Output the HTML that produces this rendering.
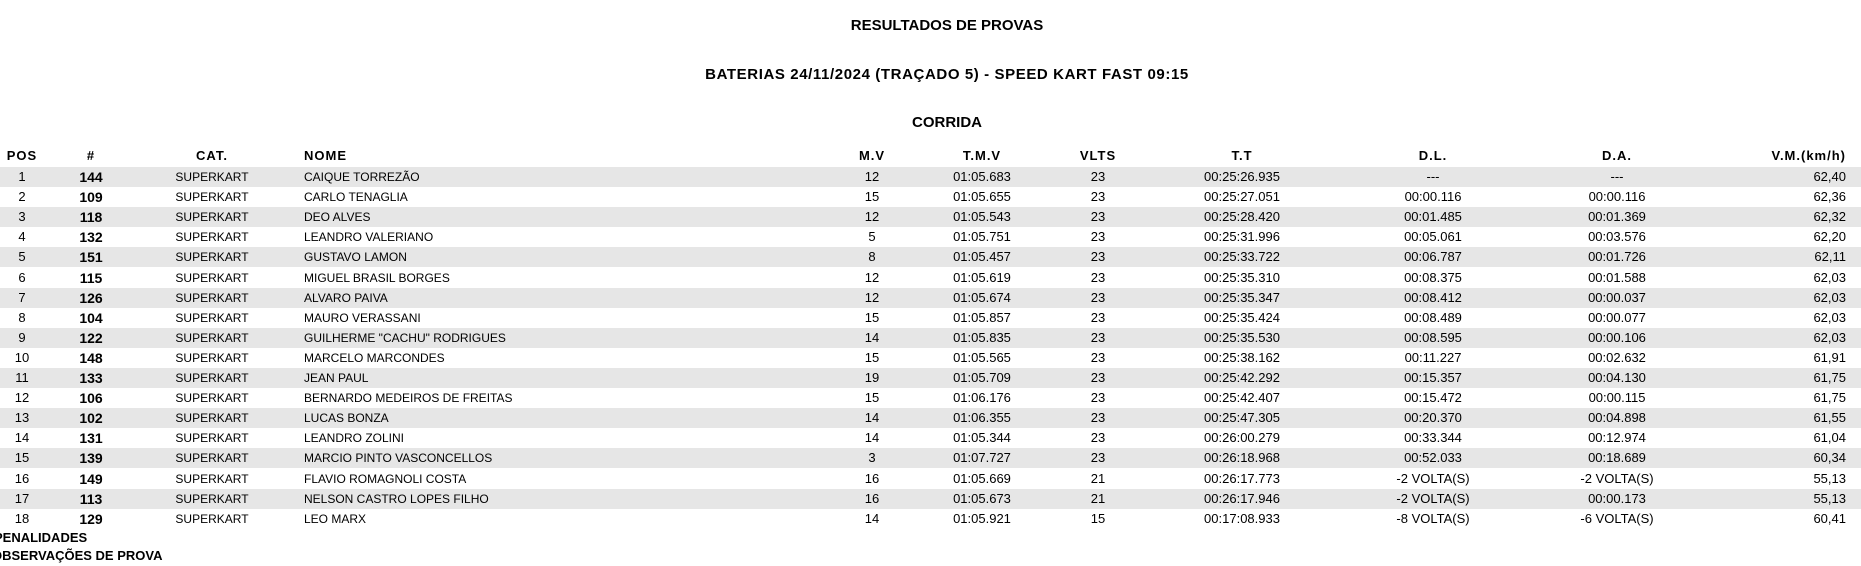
<!DOCTYPE html>
<html><head><meta charset="utf-8">
<style>
body{margin:0;width:1861px;height:561px;background:#fff;font-family:"Liberation Sans",sans-serif;color:#000;position:relative;overflow:hidden}
.t{position:absolute;white-space:nowrap;font-size:13px;line-height:20px}
.b{font-weight:bold;font-size:14px}
.h{font-weight:bold;font-size:13px;letter-spacing:1px}
.n{font-size:12px}
.c{transform:translateX(-50%)}
.r{transform:translateX(-100%)}
.title{position:absolute;left:947px;transform:translateX(-50%);font-weight:bold;font-size:15px;white-space:nowrap}
.row{position:absolute;left:0;width:1861px;height:20px}
</style></head><body>
<div class="title" style="top:17px">RESULTADOS DE PROVAS</div>
<div class="title" style="top:66px;letter-spacing:0.6px">BATERIAS 24/11/2024 (TRAÇADO 5) - SPEED KART FAST 09:15</div>
<div class="title" style="top:114px">CORRIDA</div>
<div id="tbl"></div>
<div class="t b" style="left:-6px;top:528px;font-size:13px">PENALIDADES</div>
<div class="t b" style="left:-8px;top:546px;font-size:13px">OBSERVAÇÕES DE PROVA</div>
<script>
const headers=["POS","#","CAT.","NOME","M.V","T.M.V","VLTS","T.T","D.L.","D.A.","V.M.(km/h)"];
const colX=[22,91,212,304,872,982,1098,1242,1433,1617,1846];
const colAlign=["c","c","c","l","c","c","c","c","c","c","r"];
const nums=["144","109","118","132","151","115","126","104","122","148","133","106","102","131","139","149","113","129"];
const names=["CAIQUE TORREZÃO","CARLO TENAGLIA","DEO ALVES","LEANDRO VALERIANO","GUSTAVO LAMON","MIGUEL BRASIL BORGES","ALVARO PAIVA","MAURO VERASSANI","GUILHERME \"CACHU\" RODRIGUES","MARCELO MARCONDES","JEAN PAUL","BERNARDO MEDEIROS DE FREITAS","LUCAS BONZA","LEANDRO ZOLINI","MARCIO PINTO VASCONCELLOS","FLAVIO ROMAGNOLI COSTA","NELSON CASTRO LOPES FILHO","LEO MARX"];
const mv=["12","15","12","5","8","12","12","15","14","15","19","15","14","14","3","16","16","14"];
const tmv=["01:05.683","01:05.655","01:05.543","01:05.751","01:05.457","01:05.619","01:05.674","01:05.857","01:05.835","01:05.565","01:05.709","01:06.176","01:06.355","01:05.344","01:07.727","01:05.669","01:05.673","01:05.921"];
const laps=["23","23","23","23","23","23","23","23","23","23","23","23","23","23","23","21","21","15"];
const tt=["00:25:26.935","00:25:27.051","00:25:28.420","00:25:31.996","00:25:33.722","00:25:35.310","00:25:35.347","00:25:35.424","00:25:35.530","00:25:38.162","00:25:42.292","00:25:42.407","00:25:47.305","00:26:00.279","00:26:18.968","00:26:17.773","00:26:17.946","00:17:08.933"];
const dl=["---","00:00.116","00:01.485","00:05.061","00:06.787","00:08.375","00:08.412","00:08.489","00:08.595","00:11.227","00:15.357","00:15.472","00:20.370","00:33.344","00:52.033","-2 VOLTA(S)","-2 VOLTA(S)","-8 VOLTA(S)"];
const da=["---","00:00.116","00:01.369","00:03.576","00:01.726","00:01.588","00:00.037","00:00.077","00:00.106","00:02.632","00:04.130","00:00.115","00:04.898","00:12.974","00:18.689","-2 VOLTA(S)","00:00.173","-6 VOLTA(S)"];
const vm=["62,40","62,36","62,32","62,20","62,11","62,03","62,03","62,03","62,03","61,91","61,75","61,75","61,55","61,04","60,34","55,13","55,13","60,41"];
const colNames=["pos","kart-number","category","driver-name","best-lap","best-lap-time","laps","total-time","gap-leader","gap-ahead","avg-speed"];
const tbl=document.getElementById('tbl');
function cell(parent,txt,i,top,cls,name){
  const d=document.createElement('div');
  d.className='t '+cls+(colAlign[i]==='c'?' c':colAlign[i]==='r'?' r':'');
  d.style.left=colX[i]+'px';d.style.top=top+'px';d.textContent=txt;
  
  
  parent.appendChild(d);
}
headers.forEach((h,i)=>cell(tbl,h,i,146,'h',colNames[i]+'-header'));
for(let r=0;r<nums.length;r++){
  const top=Math.round(167+r*20.1);
  const row=document.createElement('div');
  row.className='row';row.style.top=top+'px';
  row.style.background=r%2===0?'#e6e6e6':'#fff';
  
  
  tbl.appendChild(row);
  const vals=[String(r+1),nums[r],"SUPERKART",names[r],mv[r],tmv[r],laps[r],tt[r],dl[r],da[r],vm[r]];
  vals.forEach((v,i)=>cell(tbl,v,i,top,i===1?'b':(i===2||i===3?'n':''),colNames[i]+'-cell'));
}
</script>
</body></html>
